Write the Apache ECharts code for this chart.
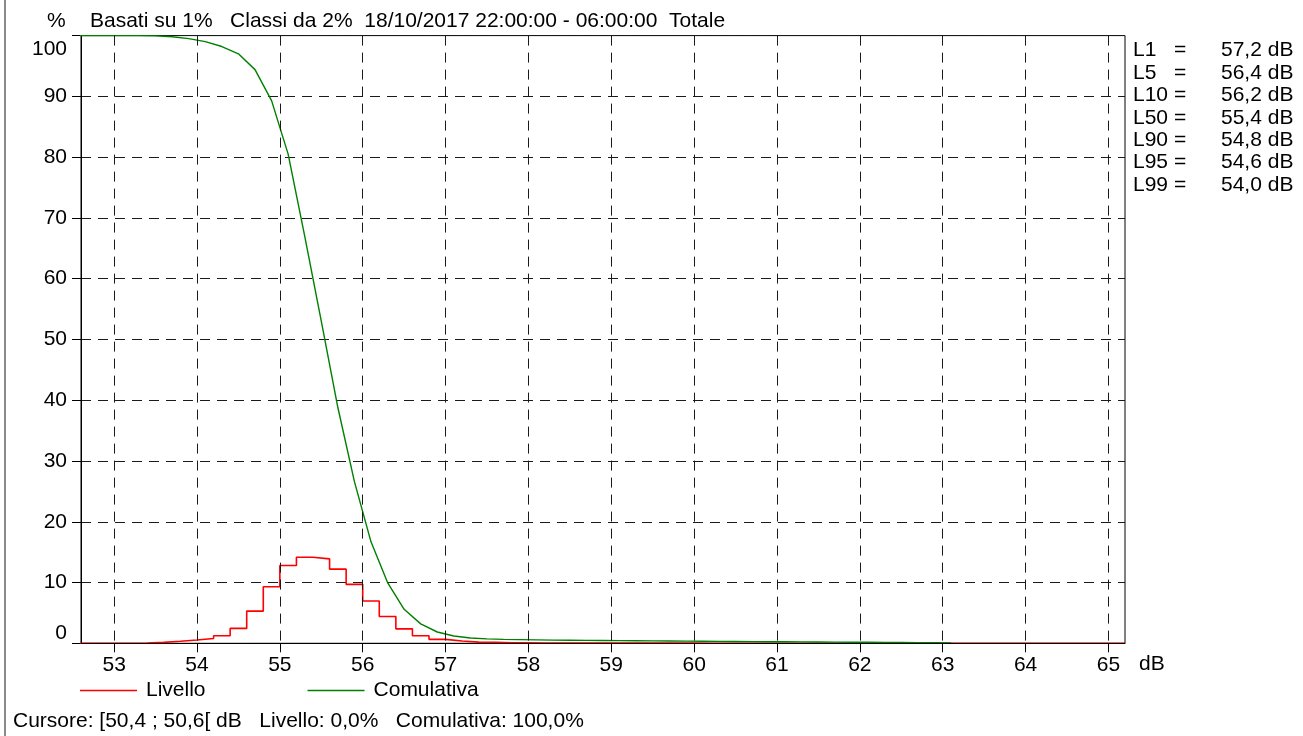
<!DOCTYPE html>
<html>
<head>
<meta charset="utf-8">
<script src="https://cdn.jsdelivr.net/npm/echarts@6/dist/echarts.min.js"></script>
<style>
html,body{margin:0;padding:0;background:#fff;}
#frame{position:absolute;left:4px;top:0;width:2px;height:736px;background:#8a8a8a;}
#chart{position:absolute;left:0;top:0;width:1303px;height:736px;}
</style>
</head>
<body>
<div id="chart"></div>
<div id="frame"></div>
<script>
// Histogram classes (left edge of each 0.2 dB class, plus the closing edge)
const levelEdges = [52.4,52.6,52.8,53.0,53.2,53.4,53.6,53.8,54.0,54.2,54.4,54.6,54.8,55.0,55.2,55.4,55.6,55.8,56.0,56.2,56.4,56.6,56.8,57.0,57.2,57.4,57.6,57.8,58.0,58.2,58.4,58.6,58.8,59.0,59.2,59.4,59.6,59.8,60.0,60.2,60.4,60.6,60.8,61.0,61.2,61.4,61.6,61.8,62.0,62.2,62.4,62.6,62.8,63.0,63.2,63.4,63.6,63.8,64.0,64.2,64.4,64.6,64.8,65.0,65.2];
const levelValues = [0,0,0,0,0.03,0.15,0.33,0.55,0.8,1.25,2.45,5.3,9.3,12.8,14.15,13.9,12.2,9.7,6.95,4.4,2.38,1.25,0.65,0.38,0.2,0.18,0.1,0.08,0.06,0.05,0.05,0.04,0.04,0.04,0.03,0.03,0.03,0.03,0.02,0.02,0.02,0.02,0.02,0.02,0.02,0.02,0.02,0.02,0.02,0.02,0.02,0.02,0.02,0.02,0,0,0,0,0,0,0,0,0,0,0];
// Cumulative curve (class centres)
const cumX = [52.5,52.7,52.9,53.1,53.3,53.5,53.7,53.9,54.1,54.3,54.5,54.7,54.9,55.1,55.3,55.5,55.7,55.9,56.1,56.3,56.5,56.7,56.9,57.1,57.3,57.5,57.7,57.9,58.1,58.3,58.5,58.7,58.9,59.1,59.3,59.5,59.7,59.9,60.1,60.3,60.5,60.7,60.9,61.1,61.3,61.5,61.7,61.9,62.1,62.3,62.5,62.7,62.9,63.1];
const cumValues = [100,100,100,100,100,99.95,99.8,99.5,99.0,98.2,97.0,94.4,89.3,80.5,67.0,53.0,38.8,26.6,16.7,10.0,5.6,3.2,1.86,1.2,0.87,0.72,0.64,0.6,0.56,0.52,0.5,0.48,0.46,0.44,0.42,0.4,0.38,0.36,0.34,0.32,0.3,0.28,0.26,0.25,0.24,0.22,0.2,0.18,0.17,0.15,0.13,0.11,0.08,0.05];
const xTicks = [53,54,55,56,57,58,59,60,61,62,63,64,65];
const statNames = ['L1','L5','L10','L50','L90','L95','L99'];
const statValues = ['57,2','56,4','56,2','55,4','54,8','54,6','54,0'];
const headerText = 'Basati su 1%   Classi da 2%  18/10/2017 22:00:00 - 06:00:00  Totale';
const footerText = 'Cursore: [50,4 ; 50,6[ dB   Livello: 0,0%   Comulativa: 100,0%';

const FONT = "'Liberation Sans', Arial, sans-serif";
const FS = 21;

const levelData = levelEdges.map((x, i) => [x, i < levelValues.length ? levelValues[i] : 0]);
const cumData = cumX.map((x, i) => [x, cumValues[i]]);

const statText = statNames.map((n, i) => '{a|' + n + '}{b|=}{c|' + statValues[i] + ' dB}').join('\n');

const chart = echarts.init(document.getElementById('chart'), null, {renderer: 'canvas'});
chart.setOption({
  animation: false,
  backgroundColor: '#fff',
  textStyle: {fontFamily: FONT, color: '#000'},
  title: [
    {text: '%', left: 47, top: 11, padding: 0, textStyle: {fontFamily: FONT, fontSize: FS, fontWeight: 'normal', color: '#000'}},
    {text: headerText, left: 90, top: 11, padding: 0, textStyle: {fontFamily: FONT, fontSize: FS, fontWeight: 'normal', color: '#000'}},
    {text: footerText, left: 13, top: 711, padding: 0, textStyle: {fontFamily: FONT, fontSize: FS, fontWeight: 'normal', color: '#000'}},
    {text: statText, left: 1133, top: 39.5, padding: 0, textStyle: {
      fontFamily: FONT, fontSize: FS, fontWeight: 'normal', color: '#000', lineHeight: 22.4,
      rich: {
        a: {fontFamily: FONT, fontSize: FS, width: 41, lineHeight: 22.4},
        b: {fontFamily: FONT, fontSize: FS, width: 47, lineHeight: 22.4},
        c: {fontFamily: FONT, fontSize: FS, lineHeight: 22.4}
      }
    }}
  ],
  legend: {
    data: ['Livello', 'Comulativa'],
    left: 80, top: 680, padding: 0,
    icon: 'rect', itemWidth: 57, itemHeight: 1.5, itemGap: 102,
    textStyle: {fontFamily: FONT, fontSize: FS, color: '#000', padding: [0, 0, 0, 4]}
  },
  grid: {left: 81, top: 35.6, right: 178, bottom: 92.7, show: true, borderColor: '#000', borderWidth: 1, containLabel: false},
  xAxis: {
    type: 'value', min: 52.6, max: 65.2, z: 3,
    name: 'dB', nameLocation: 'end', nameGap: 14,
    nameTextStyle: {fontFamily: FONT, fontSize: FS, color: '#000', verticalAlign: 'top', padding: [10, 0, 0, 0]},
    axisLine: {show: true, onZero: false, lineStyle: {color: '#000', width: 1}},
    axisTick: {show: true, customValues: xTicks, length: 9, lineStyle: {color: '#000'}},
    axisLabel: {customValues: xTicks, fontFamily: FONT, fontSize: FS, color: '#000', margin: 11},
    splitLine: {show: true, lineStyle: {color: '#1a1a1a', type: [10, 7], width: 1}}
  },
  yAxis: {
    type: 'value', min: 0, max: 100, interval: 10,
    axisLine: {show: true, lineStyle: {color: '#000', width: 1}},
    axisTick: {show: true, length: 9, lineStyle: {color: '#000'}},
    axisLabel: {fontFamily: FONT, fontSize: FS, color: '#000', margin: 14,
      verticalAlignMinLabel: 'bottom', verticalAlignMaxLabel: 'top',
      formatter: v => (v === 100 ? '{mx|' + v + '}' : String(v)),
      rich: {mx: {fontFamily: FONT, fontSize: FS, color: '#000', padding: [3, 0, 0, 0]}}},
    splitLine: {show: true, lineStyle: {color: '#1a1a1a', type: [10, 7], width: 1}}
  },
  series: [
    {name: 'Livello', type: 'line', step: 'end', data: levelData, showSymbol: false, clip: false,
     color: '#ff0000', lineStyle: {color: '#ff0000', width: 1.6}, z: 2},
    {name: 'Comulativa', type: 'line', data: cumData, showSymbol: false, clip: false,
     color: '#008000', lineStyle: {color: '#008000', width: 1.4}, z: 2}
  ]
});
</script>
</body>
</html>
